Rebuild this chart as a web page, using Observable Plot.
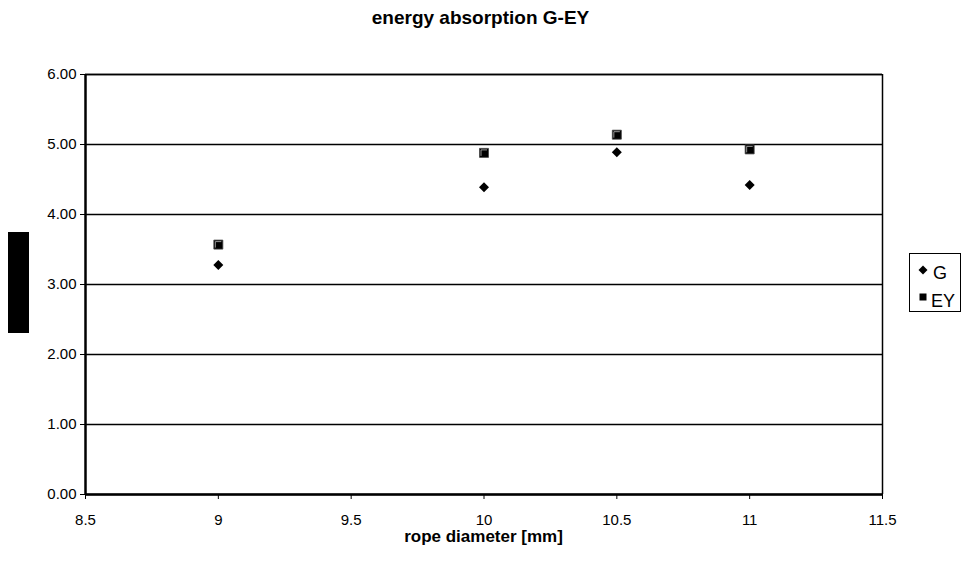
<!DOCTYPE html>
<html><head><meta charset="utf-8">
<script src="https://cdn.jsdelivr.net/npm/d3@7"></script>
<script src="https://cdn.jsdelivr.net/npm/@observablehq/plot@0.6"></script>
<style>
body{margin:0;background:#fff;font-family:"Liberation Sans",Arial,sans-serif;}
#wrap{position:relative;width:961px;height:568px;}
#title{position:absolute;left:0;width:961px;top:6px;text-align:center;font-weight:bold;font-size:19px;line-height:24px;}
#xlabel{position:absolute;left:85px;width:797px;top:531px;text-align:center;font-weight:bold;font-size:17px;line-height:12px;}
#redact{position:absolute;left:8px;top:232px;width:21px;height:101px;background:#000;}
#legend{position:absolute;left:909px;top:253px;width:52px;height:59px;border:1.5px solid #000;box-sizing:border-box;}
.lt{position:absolute;font-size:18px;line-height:20px;}
.lm{position:absolute;}
</style></head><body>
<div id="wrap">
<div id="chart"></div>
<div id="title">energy absorption G-EY</div>
<div id="xlabel">rope diameter [mm]</div>
<div id="redact"></div>
<div id="legend"></div>
<svg class="lm" style="left:918px;top:265px" width="10" height="10"><path d="M5 0.5L9.5 5L5 9.5L0.5 5Z" fill="#000"/></svg>
<div class="lt" style="left:933px;top:263px">G</div>
<svg class="lm" style="left:918px;top:292px" width="10" height="10"><rect x="1.5" y="1.5" width="7" height="7" fill="#000"/></svg>
<div class="lt" style="left:931px;top:291px">EY</div>
</div>
<script>
const diameters = [9, 10, 10.5, 11];
const seriesG = [3.28, 4.39, 4.89, 4.42];
const seriesEY = [3.57, 4.88, 5.14, 4.93];
const xTicks = [8.5, 9, 9.5, 10, 10.5, 11, 11.5];
const yTicks = [0, 1, 2, 3, 4, 5, 6];

const dataG = diameters.map((d, i) => ({x: d, y: seriesG[i]}));
const dataEY = diameters.map((d, i) => ({x: d, y: seriesEY[i]}));

const rad = size => Math.sqrt(size / Math.PI);
const diamond = {draw(ctx, size) { const r = rad(size); ctx.moveTo(0, -r); ctx.lineTo(r, 0); ctx.lineTo(0, r); ctx.lineTo(-r, 0); ctx.closePath(); }};
const square = {draw(ctx, size) { const r = rad(size); ctx.rect(-r, -r, 2 * r, 2 * r); }};
const hilite = {draw(ctx, size) { const r = rad(size) - 1.5; ctx.moveTo(-r, r); ctx.lineTo(-r, -r); ctx.lineTo(r, -r); }};

const plot = Plot.plot({
  width: 961, height: 568,
  marginLeft: 85, marginRight: 79, marginTop: 74, marginBottom: 74,
  style: {fontFamily: '"Liberation Sans", Arial, sans-serif', fontSize: "15px", color: "#000", background: "#fff"},
  x: {domain: [8.5, 11.5], ticks: xTicks, tickFormat: d => String(d), label: null},
  y: {domain: [0, 6], ticks: yTicks, tickFormat: d3.format(".2f"), label: null},
  marks: [
    Plot.gridY(yTicks, {stroke: "#000", strokeOpacity: 1, strokeWidth: 1.5}),
    Plot.ruleX([11.5], {stroke: "#000", strokeWidth: 1.5}),
    Plot.ruleY([6], {stroke: "#000", strokeWidth: 1.5}),
    Plot.axisY({ticks: yTicks, tickFormat: d3.format(".2f"), tickSize: 5, tickPadding: 4, label: null, fontSize: 15}),
    Plot.axisX({ticks: xTicks, tickSize: 5, text: null, label: null}),
    Plot.axisX({ticks: xTicks, tickFormat: d => String(d), tickSize: 0, tickPadding: 0, dy: 20, label: null, fontSize: 15}),
    Plot.ruleX([8.5], {stroke: "#000", strokeWidth: 2.5}),
    Plot.ruleY([0], {stroke: "#000", strokeWidth: 2.5}),
    Plot.dot(dataG, {x: "x", y: "y", symbol: diamond, r: 5, fill: "#000", stroke: "none"}),
    Plot.dot(dataEY, {x: "x", y: "y", symbol: square, r: 4.5, fill: "#000", stroke: "#444", strokeWidth: 0.8}),
    Plot.dot(dataEY, {x: "x", y: "y", symbol: hilite, r: 4.5, fill: "none", stroke: "#bbb", strokeWidth: 0.8})
  ]
});
document.getElementById("chart").appendChild(plot);
</script>
</body></html>
